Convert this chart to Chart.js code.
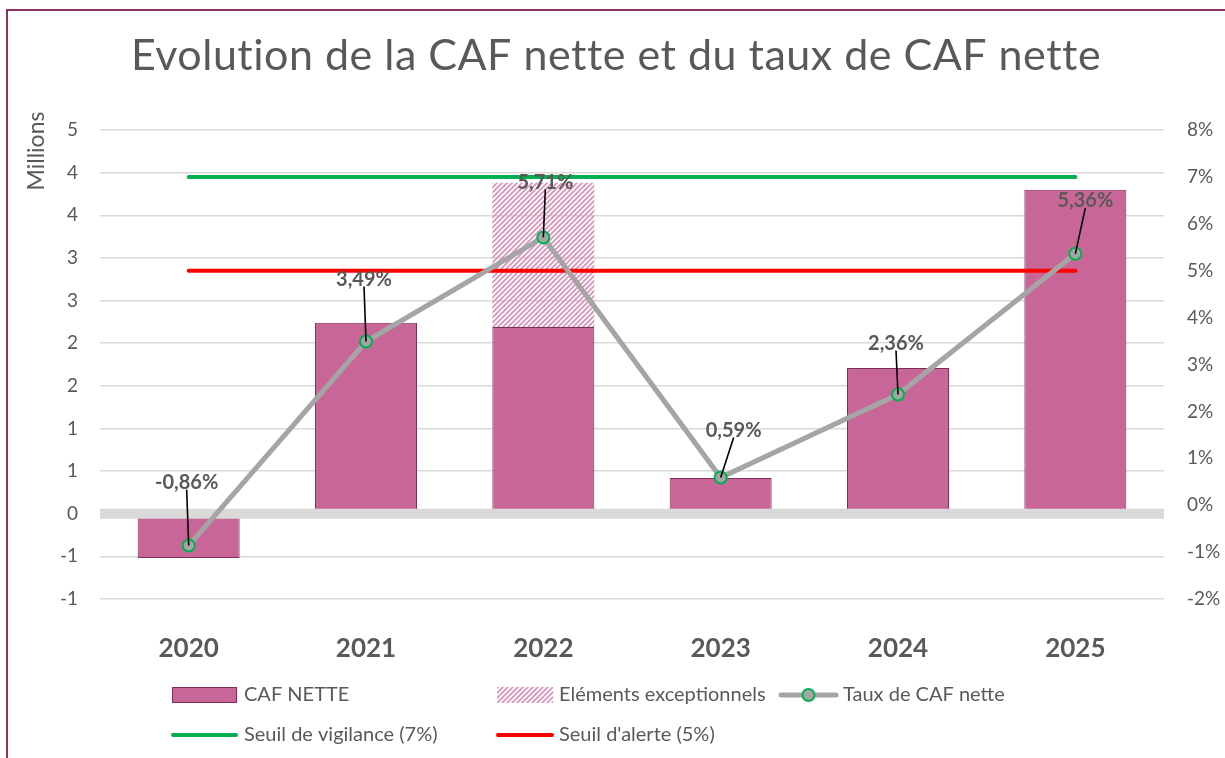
<!DOCTYPE html>
<html>
<head>
<meta charset="utf-8">
<script src="https://cdn.jsdelivr.net/npm/chart.js@4.4.1/dist/chart.umd.min.js"></script>
<style>
  body { margin: 0; background: #fff; }
  #wrap { width: 1225px; height: 758px; }
</style>
</head>
<body>
<div id="wrap"><canvas id="cafChart" width="1225" height="758"></canvas></div>
<script>
// Données (CAF en millions d'euros, taux en %)
const annees = ['2020', '2021', '2022', '2023', '2024', '2025'];
const cafNette = [-0.52, 2.24, 2.19, 0.42, 1.71, 3.80];
const elementsExceptionnels = [0, 0, 1.69, 0, 0, 0];
const tauxCafNette = [-0.86, 3.49, 5.71, 0.59, 2.36, 5.36];
const seuilVigilance = [7, 7, 7, 7, 7, 7];
const seuilAlerte = [5, 5, 5, 5, 5, 5];

const GRIS = '#595959';
const POLICE = 'Lato, "Open Sans", sans-serif';

// motif hachuré pour les éléments exceptionnels
function creerHachure() {
  const c = document.createElement('canvas');
  c.width = 5; c.height = 5;
  const g = c.getContext('2d');
  g.strokeStyle = '#dd93b9';
  g.lineWidth = 1.8;
  g.beginPath();
  g.moveTo(-1, 6); g.lineTo(6, -1);
  g.moveTo(-1, 1); g.lineTo(1, -1);
  g.moveTo(4, 6); g.lineTo(6, 4);
  g.stroke();
  return g.createPattern(c, 'repeat');
}
const hachure = creerHachure();

// cadre, titre, axe "Millions", ligne du zéro, étiquettes et légende
const decorPlugin = {
  id: 'decor',
  beforeDraw(chart) {
    const ctx = chart.ctx;
    ctx.save();
    ctx.fillStyle = '#fff';
    ctx.fillRect(0, 0, chart.width, chart.height);
    ctx.fillStyle = '#8e3060';
    ctx.fillRect(6, 9, chart.width, 2);
    ctx.fillRect(6, 9, 2, chart.height);
    ctx.restore();
  },
  afterDatasetDraw(chart, args) {
    if (args.index !== 0) return;
    const ctx = chart.ctx;
    const y0 = chart.scales.y.getPixelForValue(0);
    ctx.save();
    ctx.fillStyle = '#d9d9d9';
    ctx.fillRect(chart.chartArea.left, y0 - 5, chart.chartArea.right - chart.chartArea.left, 10);
    ctx.restore();
  },
  afterDatasetsDraw(chart, args, opts) {
    const ctx = chart.ctx;
    const meta = chart.getDatasetMeta(2);
    ctx.save();
    ctx.font = 'bold 20px ' + POLICE;
    ctx.textAlign = 'center';
    ctx.textBaseline = 'middle';
    meta.data.forEach((pt, i) => {
      const [dx, dy] = opts.decalages[i];
      const lx = pt.x + dx, ly = pt.y + dy;
      ctx.strokeStyle = '#000';
      ctx.lineWidth = 1.6;
      ctx.beginPath();
      ctx.moveTo(lx, ly + 7);
      ctx.lineTo(pt.x, pt.y);
      ctx.stroke();
      ctx.fillStyle = GRIS;
      ctx.fillText(tauxCafNette[i].toFixed(2).replace('.', ',') + '%', lx, ly);
    });
    ctx.restore();
  },
  afterDraw(chart, args, opts) {
    const ctx = chart.ctx;
    const ds = chart.data.datasets;
    ctx.save();
    // titre
    ctx.fillStyle = GRIS;
    ctx.font = '43px ' + POLICE;
    ctx.textAlign = 'center';
    ctx.textBaseline = 'alphabetic';
    if ('letterSpacing' in ctx) ctx.letterSpacing = '0.5px';
    ctx.fillText('Evolution de la CAF nette et du taux de CAF nette', 616, 70);
    if ('letterSpacing' in ctx) ctx.letterSpacing = '0px';
    // titre axe gauche
    ctx.save();
    ctx.translate(37, 151);
    ctx.rotate(-Math.PI / 2);
    ctx.font = '23px ' + POLICE;
    ctx.textBaseline = 'middle';
    ctx.fillText('Millions', 0, 0);
    ctx.restore();
    // légende
    ctx.font = '20px ' + POLICE;
    ctx.textAlign = 'left';
    opts.legende.forEach(item => {
      const d = ds[item.ds];
      const yc = item.y;
      if (item.type === 'barre') {
        ctx.fillStyle = d.backgroundColor;
        ctx.fillRect(item.x0, yc - 8, item.x1 - item.x0, 16);
        ctx.strokeStyle = d.borderColor;
        ctx.lineWidth = 1;
        ctx.strokeRect(item.x0 + 0.5, yc - 7.5, item.x1 - item.x0 - 1, 15);
      } else if (item.type === 'hachure') {
        ctx.fillStyle = d.backgroundColor;
        ctx.fillRect(item.x0, yc - 8, item.x1 - item.x0, 16);
      } else {
        ctx.strokeStyle = d.borderColor;
        ctx.lineWidth = d.borderWidth;
        ctx.lineCap = 'round';
        ctx.beginPath();
        ctx.moveTo(item.x0, yc);
        ctx.lineTo(item.x1, yc);
        ctx.stroke();
        if (item.type === 'ligneMarqueur') {
          ctx.beginPath();
          ctx.arc((item.x0 + item.x1) / 2, yc, d.pointRadius, 0, Math.PI * 2);
          ctx.fillStyle = d.pointBackgroundColor;
          ctx.fill();
          ctx.strokeStyle = d.pointBorderColor;
          ctx.lineWidth = d.pointBorderWidth;
          ctx.stroke();
        }
      }
      ctx.fillStyle = GRIS;
      ctx.textBaseline = 'middle';
      ctx.fillText(d.label, item.xt, yc);
    });
    ctx.restore();
  }
};

new Chart(document.getElementById('cafChart'), {
  type: 'bar',
  data: {
    labels: annees,
    datasets: [
      {
        label: 'CAF NETTE',
        data: cafNette,
        backgroundColor: '#c86797',
        borderColor: '#7d2d57',
        borderWidth: 1,
        yAxisID: 'y',
        order: 3,
        barPercentage: 0.575,
        categoryPercentage: 1
      },
      {
        label: 'Eléments exceptionnels',
        data: elementsExceptionnels,
        backgroundColor: hachure,
        borderWidth: 0,
        yAxisID: 'y',
        order: 4,
        barPercentage: 0.575,
        categoryPercentage: 1
      },
      {
        type: 'line',
        label: 'Taux de CAF nette',
        data: tauxCafNette,
        borderColor: '#a5a5a5',
        borderWidth: 5,
        pointRadius: 6,
        pointBackgroundColor: '#a5a5a5',
        pointBorderColor: '#00b050',
        pointBorderWidth: 2,
        yAxisID: 'y1',
        order: 0
      },
      {
        type: 'line',
        label: 'Seuil de vigilance (7%)',
        data: seuilVigilance,
        borderColor: '#00b050',
        borderWidth: 4,
        borderCapStyle: 'round',
        pointRadius: 0,
        yAxisID: 'y1',
        order: 1
      },
      {
        type: 'line',
        label: "Seuil d'alerte (5%)",
        data: seuilAlerte,
        borderColor: '#ff0000',
        borderWidth: 4,
        borderCapStyle: 'round',
        pointRadius: 0,
        yAxisID: 'y1',
        order: 2
      }
    ]
  },
  options: {
    responsive: false,
    animation: false,
    layout: { padding: { left: 0, right: 0, top: 130, bottom: 89 } },
    plugins: {
      legend: { display: false },
      title: { display: false },
      tooltip: { enabled: false },
      decor: {
        decalages: [[-2, -63], [-2, -62], [2, -55], [13, -47], [-2, -51], [10, -53]],
        legende: [
          { ds: 0, type: 'barre', x0: 172, x1: 237, xt: 244, y: 695 },
          { ds: 1, type: 'hachure', x0: 497, x1: 553, xt: 559, y: 695 },
          { ds: 2, type: 'ligneMarqueur', x0: 781, x1: 836, xt: 843, y: 695 },
          { ds: 3, type: 'ligne', x0: 173, x1: 236, xt: 244, y: 735 },
          { ds: 4, type: 'ligne', x0: 498, x1: 552, xt: 559, y: 735 }
        ]
      }
    },
    scales: {
      x: {
        stacked: true,
        grid: { display: false },
        border: { display: false },
        ticks: {
          color: GRIS,
          padding: 26,
          font: { family: POLICE, size: 26, weight: 'bold' }
        },
        afterFit(s) { s.height = 70; }
      },
      y: {
        position: 'left',
        stacked: true,
        min: -1,
        max: 4.5,
        grid: { color: '#d9d9d9', lineWidth: 1.5, drawTicks: false },
        border: { display: false },
        ticks: {
          stepSize: 0.5,
          padding: 22,
          color: GRIS,
          font: { family: POLICE, size: 19 },
          callback: v => String(Math.sign(v) * Math.round(Math.abs(v)))
        },
        afterFit(s) { s.width = 100; }
      },
      y1: {
        position: 'right',
        min: -2,
        max: 8,
        grid: { display: false, drawTicks: false },
        border: { display: false },
        ticks: {
          stepSize: 1,
          padding: 23,
          color: GRIS,
          font: { family: POLICE, size: 19 },
          callback: v => v + '%'
        },
        afterFit(s) { s.width = 61; }
      }
    }
  },
  plugins: [decorPlugin]
});
</script>
</body>
</html>
